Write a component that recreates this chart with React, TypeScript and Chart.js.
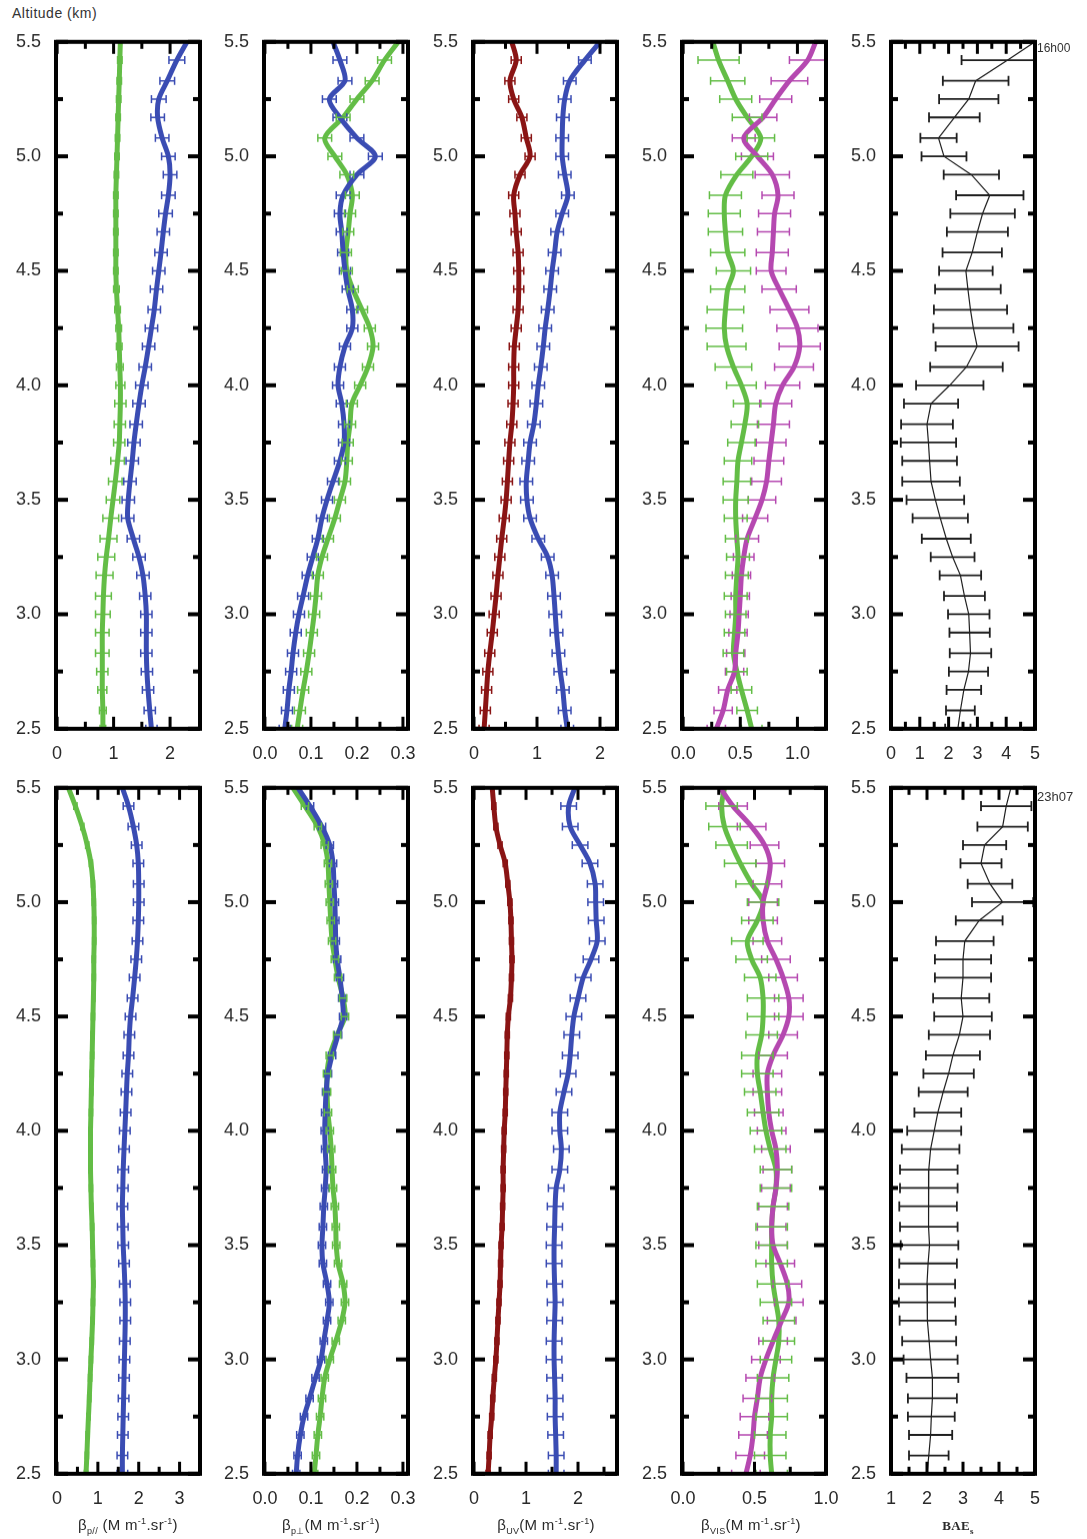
import React, { useEffect, useRef } from "react";
import { Chart, registerables } from "chart.js";
Chart.register(...registerables);

// ---------------- data ----------------
const ALT = [5.5, 5.42, 5.33, 5.25, 5.17, 5.08, 5.0, 4.92, 4.83, 4.75, 4.67, 4.58, 4.5, 4.42, 4.33, 4.25, 4.17, 4.08, 4.0, 3.92, 3.83, 3.75, 3.67, 3.58, 3.5, 3.42, 3.33, 3.25, 3.17, 3.08, 3.0, 2.92, 2.83, 2.75, 2.67, 2.58, 2.5];
const Y_TICKS = [2.5, 2.75, 3, 3.25, 3.5, 3.75, 4, 4.25, 4.5, 4.75, 5, 5.25, 5.5];

// 16h00
const P1T_GREEN = [1.12, 1.11, 1.1, 1.09, 1.08, 1.07, 1.06, 1.05, 1.04, 1.04, 1.04, 1.04, 1.04, 1.05, 1.07, 1.09, 1.1, 1.11, 1.12, 1.12, 1.11, 1.1, 1.07, 1.03, 0.99, 0.95, 0.91, 0.87, 0.84, 0.82, 0.81, 0.8, 0.8, 0.8, 0.8, 0.81, 0.81];
const P1T_GREEN_ERR = [null, 0.04, 0.04, 0.04, 0.04, 0.04, 0.04, 0.04, 0.04, 0.04, 0.04, 0.04, 0.04, 0.05, 0.05, 0.05, 0.05, 0.06, 0.08, 0.1, 0.1, 0.1, 0.12, 0.12, 0.12, 0.14, 0.15, 0.15, 0.15, 0.14, 0.13, 0.12, 0.12, 0.1, 0.08, 0.06, 0.05];
const P1T_BLUE = [2.3, 2.12, 1.95, 1.8, 1.78, 1.86, 1.97, 2.0, 1.97, 1.92, 1.88, 1.84, 1.8, 1.76, 1.72, 1.67, 1.62, 1.56, 1.5, 1.45, 1.4, 1.36, 1.33, 1.29, 1.26, 1.25, 1.35, 1.45, 1.52, 1.56, 1.58, 1.58, 1.58, 1.59, 1.61, 1.64, 1.67];
const P1T_BLUE_ERR = [null, 0.14, 0.13, 0.13, 0.12, 0.12, 0.12, 0.12, 0.12, 0.12, 0.11, 0.11, 0.11, 0.11, 0.11, 0.11, 0.11, 0.11, 0.11, 0.11, 0.11, 0.11, 0.11, 0.11, 0.11, 0.11, 0.11, 0.11, 0.11, 0.1, 0.1, 0.1, 0.1, 0.1, 0.1, 0.1, 0.1];

const P2T_BLUE = [0.148, 0.163, 0.174, 0.14, 0.163, 0.2, 0.24, 0.2, 0.17, 0.163, 0.167, 0.17, 0.174, 0.18, 0.19, 0.19, 0.174, 0.163, 0.159, 0.167, 0.172, 0.172, 0.163, 0.148, 0.135, 0.124, 0.115, 0.104, 0.093, 0.083, 0.074, 0.067, 0.061, 0.057, 0.052, 0.048, 0.043];
const P2T_BLUE_ERR = [null, 0.015, 0.015, 0.015, 0.015, 0.015, 0.015, 0.015, 0.015, 0.012, 0.012, 0.012, 0.012, 0.012, 0.012, 0.012, 0.012, 0.012, 0.012, 0.012, 0.012, 0.012, 0.012, 0.012, 0.012, 0.012, 0.012, 0.012, 0.012, 0.012, 0.012, 0.012, 0.012, 0.012, 0.012, 0.012, 0.012];
const P2T_GREEN = [0.29, 0.26, 0.233, 0.2, 0.17, 0.13, 0.152, 0.178, 0.19, 0.185, 0.181, 0.176, 0.178, 0.191, 0.211, 0.228, 0.235, 0.224, 0.207, 0.189, 0.185, 0.18, 0.178, 0.174, 0.163, 0.152, 0.137, 0.124, 0.115, 0.111, 0.107, 0.102, 0.096, 0.09, 0.083, 0.076, 0.07];
const P2T_GREEN_ERR = [null, 0.015, 0.015, 0.015, 0.015, 0.015, 0.015, 0.015, 0.015, 0.012, 0.012, 0.012, 0.012, 0.012, 0.012, 0.012, 0.012, 0.012, 0.012, 0.012, 0.012, 0.012, 0.012, 0.012, 0.012, 0.012, 0.012, 0.012, 0.012, 0.012, 0.012, 0.012, 0.012, 0.012, 0.012, 0.012, 0.012];

const P3T_RED = [0.6, 0.67, 0.57, 0.63, 0.76, 0.83, 0.89, 0.73, 0.63, 0.65, 0.67, 0.7, 0.71, 0.71, 0.7, 0.67, 0.64, 0.63, 0.63, 0.62, 0.6, 0.57, 0.55, 0.53, 0.51, 0.48, 0.44, 0.41, 0.38, 0.35, 0.32, 0.29, 0.25, 0.22, 0.2, 0.18, 0.16];
const P3T_RED_ERR = [null, 0.08, 0.08, 0.08, 0.08, 0.08, 0.08, 0.08, 0.08, 0.08, 0.08, 0.08, 0.08, 0.08, 0.08, 0.08, 0.08, 0.08, 0.08, 0.08, 0.08, 0.08, 0.08, 0.08, 0.08, 0.08, 0.08, 0.08, 0.08, 0.08, 0.08, 0.08, 0.08, 0.08, 0.08, 0.08, 0.08];
const P3T_BLUE = [2.0, 1.76, 1.52, 1.44, 1.41, 1.4, 1.4, 1.44, 1.49, 1.4, 1.32, 1.28, 1.24, 1.21, 1.17, 1.13, 1.1, 1.06, 1.02, 0.99, 0.95, 0.89, 0.86, 0.83, 0.84, 0.89, 1.02, 1.17, 1.24, 1.27, 1.29, 1.31, 1.34, 1.37, 1.41, 1.44, 1.48];
const P3T_BLUE_ERR = [null, 0.1, 0.1, 0.1, 0.1, 0.1, 0.1, 0.1, 0.1, 0.1, 0.1, 0.1, 0.1, 0.1, 0.1, 0.1, 0.1, 0.1, 0.1, 0.1, 0.1, 0.1, 0.1, 0.1, 0.1, 0.1, 0.1, 0.1, 0.1, 0.1, 0.1, 0.1, 0.1, 0.1, 0.1, 0.1, 0.1];

const P4T_GREEN = [0.26, 0.31, 0.39, 0.46, 0.56, 0.68, 0.6, 0.47, 0.37, 0.36, 0.37, 0.39, 0.44, 0.39, 0.37, 0.36, 0.38, 0.44, 0.51, 0.56, 0.54, 0.51, 0.48, 0.47, 0.46, 0.46, 0.47, 0.48, 0.47, 0.46, 0.46, 0.45, 0.44, 0.47, 0.51, 0.56, 0.6];
const P4T_GREEN_ERR = [null, 0.18, 0.15, 0.14, 0.13, 0.12, 0.14, 0.14, 0.14, 0.14, 0.15, 0.15, 0.15, 0.15, 0.16, 0.16, 0.17, 0.16, 0.13, 0.12, 0.12, 0.12, 0.12, 0.12, 0.11, 0.1, 0.1, 0.1, 0.1, 0.1, 0.09, 0.09, 0.09, 0.09, 0.09, 0.09, 0.09];
const P4T_MAG = [1.16, 1.09, 0.93, 0.81, 0.7, 0.53, 0.65, 0.78, 0.83, 0.8, 0.79, 0.78, 0.77, 0.84, 0.93, 1.0, 1.02, 0.97, 0.87, 0.81, 0.79, 0.77, 0.75, 0.73, 0.69, 0.63, 0.56, 0.53, 0.51, 0.5, 0.49, 0.48, 0.46, 0.45, 0.39, 0.35, 0.29];
const P4T_MAG_ERR = [null, 0.16, 0.16, 0.14, 0.12, 0.1, 0.14, 0.15, 0.14, 0.14, 0.14, 0.14, 0.13, 0.15, 0.17, 0.18, 0.18, 0.17, 0.15, 0.14, 0.14, 0.13, 0.13, 0.13, 0.12, 0.11, 0.1, 0.09, 0.08, 0.08, 0.08, 0.08, 0.08, 0.08, 0.08, 0.08, 0.08];

const BAE_T = [5.0, 4.05, 2.94, 2.7, 2.2, 1.65, 1.84, 2.79, 3.43, 3.18, 3.0, 2.82, 2.6, 2.67, 2.76, 2.86, 2.99, 2.62, 2.04, 1.39, 1.25, 1.3, 1.34, 1.39, 1.54, 1.71, 1.92, 2.14, 2.41, 2.55, 2.7, 2.73, 2.76, 2.69, 2.53, 2.41, 2.32];
const BAE_T_ERR = [null, 1.6, 1.14, 1.03, 0.88, 0.63, 0.78, 0.96, 1.17, 1.12, 1.06, 1.03, 0.93, 1.14, 1.27, 1.39, 1.44, 1.26, 1.17, 0.94, 0.9, 0.96, 0.95, 1.0, 1.0, 0.96, 0.85, 0.76, 0.72, 0.71, 0.72, 0.7, 0.72, 0.68, 0.6, 0.5, 0.44];

// 23h07
const P1B_GREEN = [0.28, 0.45, 0.62, 0.74, 0.83, 0.88, 0.9, 0.91, 0.91, 0.9, 0.9, 0.89, 0.88, 0.87, 0.86, 0.85, 0.84, 0.83, 0.82, 0.82, 0.82, 0.83, 0.84, 0.86, 0.87, 0.88, 0.89, 0.88, 0.87, 0.85, 0.83, 0.81, 0.79, 0.77, 0.75, 0.73, 0.71];
const P1B_GREEN_ERR = [null, 0.04, 0.04, 0.04, 0.04, 0.04, 0.04, 0.04, 0.04, 0.04, 0.04, 0.04, 0.04, 0.04, 0.04, 0.04, 0.04, 0.04, 0.04, 0.04, 0.04, 0.04, 0.04, 0.04, 0.04, 0.04, 0.04, 0.04, 0.04, 0.04, 0.04, 0.04, 0.04, 0.04, 0.04, 0.04, 0.04];
const P1B_BLUE = [1.6, 1.75, 1.87, 1.95, 1.99, 2.0, 2.0, 1.99, 1.97, 1.94, 1.9, 1.85, 1.8, 1.77, 1.75, 1.72, 1.7, 1.68, 1.66, 1.64, 1.62, 1.61, 1.6, 1.61, 1.62, 1.64, 1.66, 1.67, 1.67, 1.66, 1.65, 1.64, 1.63, 1.62, 1.61, 1.6, 1.6];
const P1B_BLUE_ERR = [null, 0.13, 0.13, 0.13, 0.13, 0.13, 0.13, 0.13, 0.13, 0.13, 0.13, 0.13, 0.13, 0.13, 0.13, 0.13, 0.13, 0.13, 0.13, 0.13, 0.13, 0.13, 0.13, 0.13, 0.13, 0.13, 0.13, 0.13, 0.13, 0.13, 0.13, 0.13, 0.13, 0.13, 0.13, 0.13, 0.13];

const P2B_BLUE = [0.072, 0.098, 0.124, 0.141, 0.148, 0.15, 0.152, 0.153, 0.154, 0.157, 0.163, 0.168, 0.17, 0.159, 0.146, 0.137, 0.133, 0.131, 0.13, 0.131, 0.133, 0.131, 0.128, 0.126, 0.124, 0.126, 0.135, 0.14, 0.135, 0.128, 0.122, 0.11, 0.097, 0.085, 0.077, 0.071, 0.068];
const P2B_BLUE_ERR = [null, 0.008, 0.008, 0.008, 0.008, 0.008, 0.008, 0.008, 0.008, 0.008, 0.008, 0.008, 0.008, 0.008, 0.008, 0.008, 0.008, 0.008, 0.008, 0.008, 0.008, 0.008, 0.008, 0.008, 0.008, 0.008, 0.008, 0.008, 0.008, 0.008, 0.008, 0.008, 0.008, 0.008, 0.008, 0.008, 0.008];
const P2B_GREEN = [0.061, 0.087, 0.115, 0.13, 0.137, 0.139, 0.141, 0.143, 0.146, 0.152, 0.159, 0.17, 0.174, 0.157, 0.141, 0.135, 0.135, 0.137, 0.141, 0.144, 0.146, 0.148, 0.152, 0.154, 0.155, 0.159, 0.17, 0.174, 0.167, 0.154, 0.141, 0.13, 0.124, 0.12, 0.115, 0.111, 0.107];
const P2B_GREEN_ERR = [null, 0.008, 0.008, 0.008, 0.008, 0.008, 0.008, 0.008, 0.008, 0.008, 0.008, 0.008, 0.008, 0.008, 0.008, 0.008, 0.008, 0.008, 0.008, 0.008, 0.008, 0.008, 0.008, 0.008, 0.008, 0.008, 0.008, 0.008, 0.008, 0.008, 0.008, 0.008, 0.008, 0.008, 0.008, 0.008, 0.008];

const P3B_RED = [0.35, 0.38, 0.42, 0.5, 0.6, 0.65, 0.69, 0.71, 0.72, 0.73, 0.72, 0.7, 0.66, 0.64, 0.63, 0.62, 0.61, 0.6, 0.58, 0.57, 0.56, 0.56, 0.55, 0.54, 0.52, 0.51, 0.5, 0.48, 0.46, 0.44, 0.42, 0.39, 0.36, 0.34, 0.31, 0.29, 0.27];
const P3B_RED_ERR = [null, 0.04, 0.04, 0.04, 0.04, 0.04, 0.04, 0.04, 0.04, 0.04, 0.04, 0.04, 0.04, 0.04, 0.04, 0.04, 0.04, 0.04, 0.04, 0.04, 0.04, 0.04, 0.04, 0.04, 0.04, 0.04, 0.04, 0.04, 0.04, 0.04, 0.04, 0.04, 0.04, 0.04, 0.04, 0.04, 0.04];
const P3B_BLUE = [1.94, 1.82, 1.85, 2.04, 2.23, 2.33, 2.34, 2.35, 2.37, 2.25, 2.1, 2.0, 1.92, 1.88, 1.85, 1.81, 1.73, 1.65, 1.65, 1.68, 1.65, 1.58, 1.56, 1.55, 1.54, 1.54, 1.55, 1.56, 1.55, 1.54, 1.54, 1.55, 1.56, 1.56, 1.57, 1.58, 1.58];
const P3B_BLUE_ERR = [null, 0.15, 0.15, 0.15, 0.15, 0.15, 0.15, 0.15, 0.15, 0.15, 0.15, 0.15, 0.15, 0.15, 0.15, 0.15, 0.15, 0.15, 0.15, 0.15, 0.15, 0.15, 0.15, 0.15, 0.15, 0.15, 0.15, 0.15, 0.15, 0.15, 0.15, 0.15, 0.15, 0.15, 0.15, 0.15, 0.15];

const P4B_GREEN = [0.29, 0.27, 0.29, 0.34, 0.4, 0.48, 0.56, 0.52, 0.45, 0.48, 0.54, 0.56, 0.56, 0.55, 0.52, 0.52, 0.54, 0.56, 0.58, 0.61, 0.65, 0.65, 0.63, 0.62, 0.62, 0.62, 0.63, 0.65, 0.67, 0.67, 0.65, 0.63, 0.62, 0.62, 0.61, 0.61, 0.62];
const P4B_GREEN_ERR = [null, 0.11, 0.11, 0.11, 0.11, 0.11, 0.11, 0.11, 0.11, 0.11, 0.11, 0.11, 0.11, 0.11, 0.11, 0.11, 0.11, 0.11, 0.11, 0.11, 0.11, 0.11, 0.11, 0.11, 0.11, 0.11, 0.11, 0.11, 0.11, 0.11, 0.11, 0.11, 0.11, 0.11, 0.11, 0.11, 0.11];
const P4B_MAG = [0.26, 0.35, 0.48, 0.57, 0.61, 0.59, 0.56, 0.56, 0.59, 0.65, 0.7, 0.74, 0.74, 0.7, 0.63, 0.59, 0.59, 0.6, 0.62, 0.65, 0.66, 0.65, 0.63, 0.62, 0.63, 0.68, 0.73, 0.74, 0.69, 0.63, 0.58, 0.54, 0.52, 0.5, 0.49, 0.47, 0.44];
const P4B_MAG_ERR = [null, 0.1, 0.1, 0.1, 0.1, 0.1, 0.1, 0.1, 0.1, 0.1, 0.1, 0.1, 0.1, 0.1, 0.1, 0.1, 0.1, 0.1, 0.1, 0.1, 0.1, 0.1, 0.1, 0.1, 0.1, 0.1, 0.1, 0.1, 0.1, 0.1, 0.1, 0.1, 0.1, 0.1, 0.1, 0.1, 0.1];

const BAE_B = [4.33, 4.2, 4.1, 3.6, 3.5, 3.75, 4.1, 3.45, 3.05, 3.0, 3.0, 2.95, 3.0, 2.9, 2.72, 2.6, 2.45, 2.3, 2.2, 2.1, 2.05, 2.05, 2.03, 2.05, 2.07, 2.03, 2.0, 2.0, 2.02, 2.06, 2.1, 2.15, 2.15, 2.12, 2.1, 2.05, 2.0];
const BAE_B_ERR = [null, 0.7, 0.7, 0.6, 0.57, 0.62, 0.85, 0.65, 0.8, 0.78, 0.78, 0.78, 0.8, 0.85, 0.75, 0.7, 0.68, 0.65, 0.75, 0.8, 0.8, 0.8, 0.8, 0.8, 0.8, 0.8, 0.78, 0.78, 0.78, 0.75, 0.75, 0.72, 0.68, 0.65, 0.6, 0.55, 0.5];

// x tick values (labels on the "major" ones)
const XT_P1_TOP = [0, 0.5, 1, 1.5, 2];
const XT_P1_BOT = [0, 0.5, 1, 1.5, 2, 2.5, 3];
const XT_P2 = [0, 0.05, 0.1, 0.15, 0.2, 0.25, 0.3];
const XT_P3_TOP = [0, 0.5, 1, 1.5, 2];
const XT_P3_BOT = [0, 0.5, 1, 1.5, 2, 2.5];
const XT_P4_TOP = [0, 0.25, 0.5, 0.75, 1];
const XT_P4_BOT = [0, 0.25, 0.5, 0.75, 1];
const XT_P5_TOP = [0, 0.5, 1, 1.5, 2, 2.5, 3, 3.5, 4, 4.5, 5];
const XT_P5_BOT = [1, 1.5, 2, 2.5, 3, 3.5, 4, 4.5, 5];

// ---------------- styles / layout ----------------
const FONT = '"Liberation Sans", Arial, sans-serif';
const GREEN = "#63bd46";
const BLUE = "#3a4cb3";
const MAGENTA = "#b548b0";
const DARKRED = "#8a1414";
const BLACK = "#1e1e1e";

const PL = 52, PR = 22, PB = 44;
const BOX_W = 144;
const COL_LEFT = [56, 264, 473, 682, 891];
const ROW_TOP = [42, 788];
const BOX_H = [686, 685];

interface SeriesDef { values: number[]; errs: (number | null)[]; color: string; width: number; tension: number; cap: number; errWidth: number; }
interface PanelDef { col: number; row: number; xMin: number; xMax: number; xTicks: number[]; labelStep: number; digits: number; series: SeriesDef[]; }

const thick = (values: number[], errs: (number | null)[], color: string): SeriesDef => ({ values, errs, color, width: 5, tension: 0.3, cap: 4, errWidth: 1.5 });
const thin = (values: number[], errs: (number | null)[]): SeriesDef => ({ values, errs, color: BLACK, width: 1.2, tension: 0, cap: 5, errWidth: 1.8 });

const PANELS: PanelDef[] = [
  { col: 0, row: 0, xMin: -0.02, xMax: 2.53, xTicks: XT_P1_TOP, labelStep: 1, digits: 0, series: [thick(P1T_GREEN, P1T_GREEN_ERR, GREEN), thick(P1T_BLUE, P1T_BLUE_ERR, BLUE)] },
  { col: 1, row: 0, xMin: -0.002, xMax: 0.311, xTicks: XT_P2, labelStep: 0.1, digits: 1, series: [thick(P2T_BLUE, P2T_BLUE_ERR, BLUE), thick(P2T_GREEN, P2T_GREEN_ERR, GREEN)] },
  { col: 2, row: 0, xMin: -0.016, xMax: 2.27, xTicks: XT_P3_TOP, labelStep: 1, digits: 0, series: [thick(P3T_BLUE, P3T_BLUE_ERR, BLUE), thick(P3T_RED, P3T_RED_ERR, DARKRED)] },
  { col: 3, row: 0, xMin: -0.01, xMax: 1.25, xTicks: XT_P4_TOP, labelStep: 0.5, digits: 1, series: [thick(P4T_MAG, P4T_MAG_ERR, MAGENTA), thick(P4T_GREEN, P4T_GREEN_ERR, GREEN)] },
  { col: 4, row: 0, xMin: 0, xMax: 5, xTicks: XT_P5_TOP, labelStep: 1, digits: 0, series: [thin(BAE_T, BAE_T_ERR)] },
  { col: 0, row: 1, xMin: -0.025, xMax: 3.5, xTicks: XT_P1_BOT, labelStep: 1, digits: 0, series: [thick(P1B_GREEN, P1B_GREEN_ERR, GREEN), thick(P1B_BLUE, P1B_BLUE_ERR, BLUE)] },
  { col: 1, row: 1, xMin: -0.002, xMax: 0.311, xTicks: XT_P2, labelStep: 0.1, digits: 1, series: [thick(P2B_BLUE, P2B_BLUE_ERR, BLUE), thick(P2B_GREEN, P2B_GREEN_ERR, GREEN)] },
  { col: 2, row: 1, xMin: -0.02, xMax: 2.75, xTicks: XT_P3_BOT, labelStep: 1, digits: 0, series: [thick(P3B_BLUE, P3B_BLUE_ERR, BLUE), thick(P3B_RED, P3B_RED_ERR, DARKRED)] },
  { col: 3, row: 1, xMin: -0.007, xMax: 1.0, xTicks: XT_P4_BOT, labelStep: 0.5, digits: 1, series: [thick(P4B_MAG, P4B_MAG_ERR, MAGENTA), thick(P4B_GREEN, P4B_GREEN_ERR, GREEN)] },
  { col: 4, row: 1, xMin: 1, xMax: 5, xTicks: XT_P5_BOT, labelStep: 1, digits: 0, series: [thin(BAE_B, BAE_B_ERR)] },
];

const isMajor = (v: number, step: number) => Math.abs(v / step - Math.round(v / step)) < 1e-6;

function Panel({ p }: { p: PanelDef }) {
  const ref = useRef<HTMLCanvasElement>(null);
  const W = BOX_W + PL + PR;
  const H = BOX_H[p.row] + 20 + PB;
  useEffect(() => {
    const canvas = ref.current as HTMLCanvasElement;
    const decoPlugin = {
      id: "deco",
      afterDatasetsDraw(chart: any) {
        const { ctx, chartArea: a } = chart;
        const xs = chart.scales.x, ys = chart.scales.y;
        ctx.save();
        ctx.beginPath();
        ctx.rect(a.left, a.top, a.right - a.left, a.bottom - a.top);
        ctx.clip();
        chart.data.datasets.forEach((ds: any) => {
          ctx.strokeStyle = ds.errColor;
          ctx.lineWidth = ds.errWidth;
          ds.data.forEach((pt: any, j: number) => {
            const e = ds.errs[j];
            if (e == null) return;
            const y = ys.getPixelForValue(pt.y);
            const x1 = xs.getPixelForValue(pt.x - e);
            const x2 = xs.getPixelForValue(pt.x + e);
            ctx.beginPath();
            ctx.moveTo(x1, y); ctx.lineTo(x2, y);
            ctx.moveTo(x1, y - ds.cap); ctx.lineTo(x1, y + ds.cap);
            ctx.moveTo(x2, y - ds.cap); ctx.lineTo(x2, y + ds.cap);
            ctx.stroke();
          });
        });
        ctx.restore();
        ctx.save();
        ctx.fillStyle = "#000";
        xs.ticks.forEach((t: any) => {
          const x = xs.getPixelForValue(t.value);
          const len = isMajor(t.value, p.labelStep) ? 12 : 7;
          ctx.fillRect(x - 1.5, a.top, 3, len);
          ctx.fillRect(x - 1.5, a.bottom - len, 3, len);
        });
        ys.ticks.forEach((t: any) => {
          const y = ys.getPixelForValue(t.value);
          const len = isMajor(t.value, 0.5) ? 12 : 7;
          ctx.fillRect(a.left, y - 2, len, 4);
          ctx.fillRect(a.right - len, y - 2, len, 4);
        });
        ctx.strokeStyle = "#000";
        ctx.lineWidth = 4;
        ctx.strokeRect(a.left, a.top, a.right - a.left, a.bottom - a.top);
        ctx.restore();
      },
    };
    const datasets = p.series.map((s) => ({
      data: ALT.map((alt, i) => ({ x: s.values[i], y: alt })),
      showLine: true,
      borderColor: s.color,
      backgroundColor: s.color,
      borderWidth: s.width,
      pointRadius: 0,
      tension: s.tension,
      fill: false,
      errs: s.errs,
      errColor: s.color,
      errWidth: s.errWidth,
      cap: s.cap,
    }));
    const tickFont = { family: FONT, size: 18 };
    const chart = new Chart(canvas, {
      type: "scatter",
      data: { datasets } as any,
      plugins: [decoPlugin],
      options: {
        responsive: false,
        maintainAspectRatio: false,
        animation: false,
        events: [],
        layout: { padding: { top: 0, right: PR, left: 0, bottom: 0 } },
        plugins: { legend: { display: false }, tooltip: { enabled: false } },
        scales: {
          x: {
            type: "linear",
            position: "bottom",
            min: p.xMin,
            max: p.xMax,
            grid: { display: false },
            border: { display: false },
            afterBuildTicks: (s: any) => { s.ticks = p.xTicks.map((v) => ({ value: v })); },
            afterFit: (s: any) => { s.height = PB; },
            ticks: {
              autoSkip: false,
              maxRotation: 0,
              padding: 6,
              color: "#2a2a2a",
              font: tickFont,
              callback: (v: any) => (isMajor(Number(v), p.labelStep) ? Number(v).toFixed(p.digits) : ""),
            },
          },
          y: {
            type: "linear",
            position: "left",
            min: 2.5,
            max: 5.5,
            grid: { display: false },
            border: { display: false },
            afterBuildTicks: (s: any) => { s.ticks = Y_TICKS.map((v) => ({ value: v })); },
            afterFit: (s: any) => { s.width = PL; },
            ticks: {
              autoSkip: false,
              padding: 7,
              color: "#2a2a2a",
              font: tickFont,
              callback: (v: any) => (isMajor(Number(v), 0.5) ? Number(v).toFixed(1) : ""),
            },
          },
        },
      } as any,
    });
    // make the plot box exactly the wanted size and place it on the page
    for (let k = 0; k < 3; k++) {
      const a0 = chart.chartArea;
      const dh = BOX_H[p.row] - (a0.bottom - a0.top);
      const dw = BOX_W - (a0.right - a0.left);
      if (Math.abs(dh) < 0.01 && Math.abs(dw) < 0.01) break;
      chart.resize(chart.width + dw, chart.height + dh);
    }
    const a = chart.chartArea;
    canvas.style.left = `${COL_LEFT[p.col] - a.left}px`;
    canvas.style.top = `${ROW_TOP[p.row] - a.top}px`;
    return () => chart.destroy();
  }, []);
  return (
    <canvas
      ref={ref}
      width={W}
      height={H}
      style={{ position: "absolute", left: COL_LEFT[p.col] - PL, top: ROW_TOP[p.row] - 12, width: W, height: H }}
    />
  );
}

const supStyle: React.CSSProperties = { fontSize: 9, verticalAlign: "super", lineHeight: 0 };
const subStyle: React.CSSProperties = { fontSize: 9, verticalAlign: "sub", lineHeight: 0 };

function Unit() {
  return (
    <span>(M m<span style={supStyle}>-1</span>.sr<span style={supStyle}>-1</span>)</span>
  );
}

export default function App() {
  const titleBase: React.CSSProperties = { position: "absolute", top: 1516, width: 200, textAlign: "center", fontSize: 15, color: "#2a2a2a", whiteSpace: "nowrap", letterSpacing: 0.3 };
  return (
    <div style={{ position: "absolute", left: 0, top: 0, width: 1087, height: 1539, background: "#fff", overflow: "hidden", fontFamily: FONT }}>
      {PANELS.map((p, i) => (
        <Panel key={i} p={p} />
      ))}
      <div style={{ position: "absolute", left: 12, top: 5, fontSize: 14, color: "#333", letterSpacing: 0.5 }}>Altitude (km)</div>
      <div style={{ position: "absolute", left: 1037, top: 41, fontSize: 12, color: "#333" }}>16h00</div>
      <div style={{ position: "absolute", left: 1037, top: 789, fontSize: 13, color: "#333" }}>23h07</div>
      <div style={{ ...titleBase, left: 128 - 100 }}>β<span style={subStyle}>p//</span> <Unit /></div>
      <div style={{ ...titleBase, left: 331 - 100 }}>β<span style={subStyle}>p⊥</span><Unit /></div>
      <div style={{ ...titleBase, left: 546 - 100 }}>β<span style={subStyle}>UV</span><Unit /></div>
      <div style={{ ...titleBase, left: 751 - 100 }}>β<span style={subStyle}>VIS</span><Unit /></div>
      <div style={{ ...titleBase, left: 958 - 100, fontFamily: '"Liberation Serif", "Times New Roman", serif', fontWeight: "bold", fontSize: 13, top: 1518 }}>BAE<span style={subStyle}>s</span></div>
    </div>
  );
}
